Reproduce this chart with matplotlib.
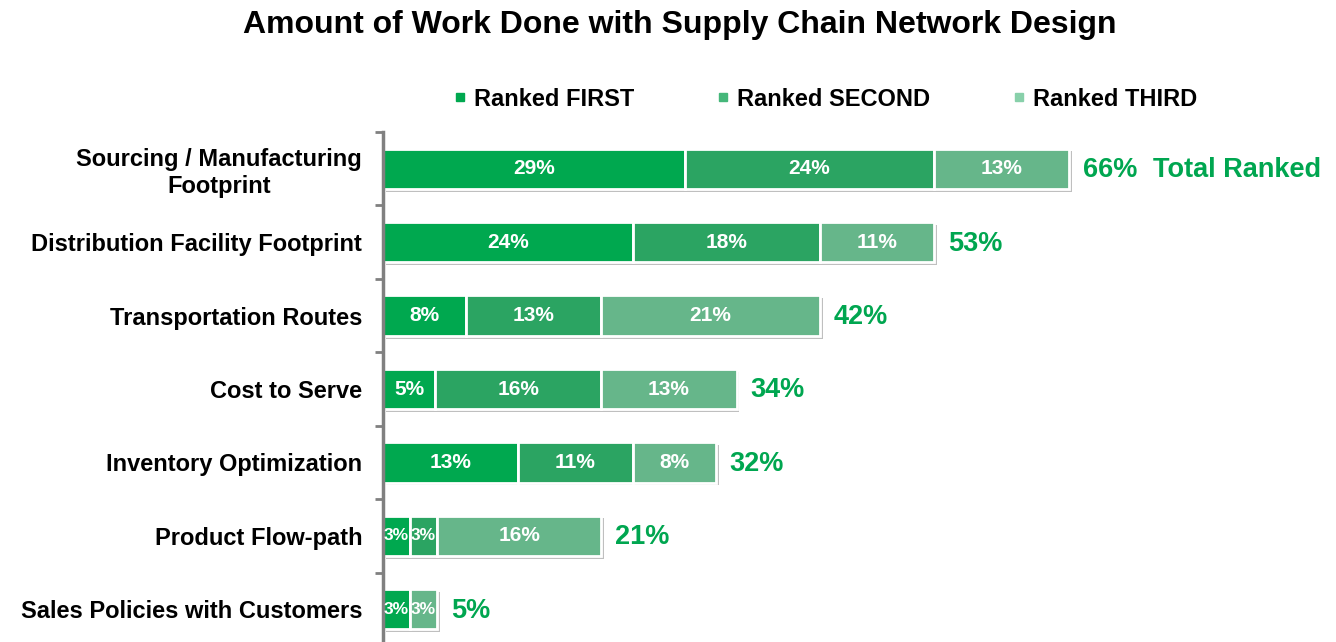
import matplotlib.pyplot as plt
from matplotlib.lines import Line2D
import matplotlib.patheffects as pe

plt.rcParams['font.family'] = ['Liberation Sans', 'DejaVu Sans']

# データ
categories = ['Sourcing / Manufacturing\nFootprint', 'Distribution Facility Footprint',
              'Transportation Routes', 'Cost to Serve', 'Inventory Optimization',
              'Product Flow-path', 'Sales Policies with Customers']
ranked_first = [29, 24, 8, 5, 13, 2.6, 2.6]
ranked_second = [24, 18, 13, 16, 11, 2.6, 0]
ranked_third = [13, 11, 21, 13, 8, 15.8, 2.6]
series_names = ['Ranked FIRST', 'Ranked SECOND', 'Ranked THIRD']
colors = ['#00A84F', '#2BA462', '#66B68A']
legend_colors = ['#00A84F', '#45B77A', '#88D0AA']

fig = plt.figure(figsize=(13.36, 6.42), dpi=100)
ax = fig.add_axes([383 / 1336, -4 / 642, 1 - 383 / 1336, 514 / 642])

y = list(range(len(categories)))
shadow = [pe.SimplePatchShadow(offset=(2, -2), shadow_rgbFace='k', alpha=0.25), pe.Normal()]
left = [0] * len(categories)
for vals, c in zip([ranked_first, ranked_second, ranked_third], colors):
    bars = ax.barh(y, vals, left=left, height=0.55, color=c, edgecolor='white', linewidth=2)
    for b, v, l, yy in zip(bars, vals, left, y):
        b.set_path_effects(shadow)
        if v > 0:
            # 狭いセグメントは文字を小さく
            fs = 15 if v >= 4 else 12.5
            ax.text(l + v / 2, yy, '%d%%' % round(v), ha='center', va='center',
                    color='white', fontsize=fs, fontweight='bold')
    left = [l + v for l, v in zip(left, vals)]

# 合計
for i, tot in enumerate(left):
    ax.annotate('%d%%' % round(tot), (tot, i), xytext=(10, -1), textcoords='offset points',
                ha='left', va='center', color='#00A650', fontsize=19.5, fontweight='bold')
ax.annotate('Total Ranked', (left[0], 0), xytext=(60, -1), textcoords='offset points',
            ha='left', va='center', color='#00A650', fontsize=19.5, fontweight='bold')

ax.set_xlim(0, (1336 - 383) / 10.4)
ax.set_ylim(len(categories) - 0.5, -0.5)
ax.set_yticks(y)
ax.set_yticklabels(categories, fontsize=17, fontweight='bold', multialignment='center')
ax.tick_params(axis='y', which='major', length=0, pad=15)
ax.set_yticks([i - 0.5 for i in range(len(categories) + 1)], minor=True)
ax.tick_params(axis='y', which='minor', length=6, width=2, color='#808080', direction='out')
ax.set_xticks([])
for s in ['top', 'right', 'bottom']:
    ax.spines[s].set_visible(False)
ax.spines['left'].set_color('#808080')
ax.spines['left'].set_linewidth(2.5)

handles = [Line2D([], [], marker='s', linestyle='none', markersize=6, color=c) for c in legend_colors]
fig.legend(handles, series_names, loc='center', bbox_to_anchor=(826 / 1336, 1 - 99 / 642), ncol=3,
           frameon=False, prop={'size': 17, 'weight': 'bold'}, handlelength=0.4,
           handletextpad=0.4, columnspacing=3.55)

fig.text(680 / 1336, 1 - 25 / 642, 'Amount of Work Done with Supply Chain Network Design',
         ha='center', va='center', fontsize=23, fontweight='bold')

plt.savefig('out.png', dpi=100)
